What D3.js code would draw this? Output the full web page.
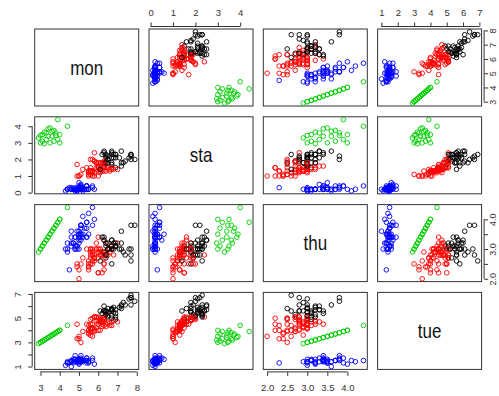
<!DOCTYPE html>
<html>
<head>
<meta charset="utf-8">
<script src="https://cdn.jsdelivr.net/npm/d3@7"></script>
<style>
  body { margin: 0; background: #fff; }
  text { font-family: "Liberation Sans", Arial, sans-serif; }
</style>
</head>
<body>
<div id="chart"></div>
<script>
// variable names, in panel order
var varNames = ["mon", "sta", "thu", "tue"];

// main 150 points
var mon = [5.1,4.9,4.7,4.6,5.0,5.4,4.6,5.0,4.4,4.9,5.4,4.8,4.8,4.3,5.8,5.7,5.4,5.1,5.7,5.1,5.4,5.1,4.6,5.1,4.8,5.0,5.0,5.2,5.2,4.7,4.8,5.4,5.2,5.5,4.9,5.0,5.5,4.9,4.4,5.1,5.0,4.5,4.4,5.0,5.1,4.8,5.1,4.6,5.3,5.0,
  7.0,6.4,6.9,5.5,6.5,5.7,6.3,4.9,6.6,5.2,5.0,5.9,6.0,6.1,5.6,6.7,5.6,5.8,6.2,5.6,5.9,6.1,6.3,6.1,6.4,6.6,6.8,6.7,6.0,5.7,5.5,5.5,5.8,6.0,5.4,6.0,6.7,6.3,5.6,5.5,5.5,6.1,5.8,5.0,5.6,5.7,5.7,6.2,5.1,5.7,
  6.3,5.8,7.1,6.3,6.5,7.6,4.9,7.3,6.7,7.2,6.5,6.4,6.8,5.7,5.8,6.4,6.5,7.7,7.7,6.0,6.9,5.6,7.7,6.3,6.7,7.2,6.2,6.1,6.4,7.2,7.4,7.9,6.4,6.3,6.1,7.7,6.3,6.4,6.0,6.9,6.7,6.9,5.8,6.8,6.7,6.7,6.3,6.5,6.2,5.9];
var thu = [3.5,3.0,3.2,3.1,3.6,3.9,3.4,3.4,2.9,3.1,3.7,3.4,3.0,3.0,4.0,4.4,3.9,3.5,3.8,3.8,3.4,3.7,3.6,3.3,3.4,3.0,3.4,3.5,3.4,3.2,3.1,3.4,4.1,4.2,3.1,3.2,3.5,3.6,3.0,3.4,3.5,2.3,3.2,3.5,3.8,3.0,3.8,3.2,3.7,3.3,
  3.2,3.2,3.1,2.3,2.8,2.8,3.3,2.4,2.9,2.7,2.0,3.0,2.2,2.9,2.9,3.1,3.0,2.7,2.2,2.5,3.2,2.8,2.5,2.8,2.9,3.0,2.8,3.0,2.9,2.6,2.4,2.4,2.7,2.7,3.0,3.4,3.1,2.3,3.0,2.5,2.6,3.0,2.6,2.3,2.7,3.0,2.9,2.9,2.5,2.8,
  3.3,2.7,3.0,2.9,3.0,3.0,2.5,2.9,2.5,3.6,3.2,2.7,3.0,2.5,2.8,3.2,3.0,3.8,2.6,2.2,3.2,2.8,2.8,2.7,3.3,3.2,2.8,3.0,2.8,3.0,2.8,3.8,2.8,2.8,2.6,3.0,3.4,3.1,3.0,3.1,3.1,3.1,2.7,3.2,3.3,3.0,2.5,3.0,3.4,3.0];
var tue = [1.4,1.4,1.3,1.5,1.4,1.7,1.4,1.5,1.4,1.5,1.5,1.6,1.4,1.1,1.2,1.5,1.3,1.4,1.7,1.5,1.7,1.5,1.0,1.7,1.9,1.6,1.6,1.5,1.4,1.6,1.6,1.5,1.5,1.4,1.5,1.2,1.3,1.4,1.3,1.5,1.3,1.3,1.3,1.6,1.9,1.4,1.6,1.4,1.5,1.4,
  4.7,4.5,4.9,4.0,4.6,4.5,4.7,3.3,4.6,3.9,3.5,4.2,4.0,4.7,3.6,4.4,4.5,4.1,4.5,3.9,4.8,4.0,4.9,4.7,4.3,4.4,4.8,5.0,4.5,3.5,3.8,3.7,3.9,5.1,4.5,4.5,4.7,4.4,4.1,4.0,4.4,4.6,4.0,3.3,4.2,4.2,4.2,4.3,3.0,4.1,
  6.0,5.1,5.9,5.6,5.8,6.6,4.5,6.3,5.8,6.1,5.1,5.3,5.5,5.0,5.1,5.3,5.5,6.7,6.9,5.0,5.7,4.9,6.7,4.9,5.7,6.0,4.8,4.9,5.6,5.8,6.1,6.4,5.6,5.1,5.6,6.1,5.6,5.5,4.8,5.4,5.6,5.1,5.1,5.9,5.7,5.2,5.0,5.2,5.4,5.1];
var sta = [0.2,0.2,0.2,0.2,0.2,0.4,0.3,0.2,0.2,0.1,0.2,0.2,0.1,0.1,0.2,0.4,0.4,0.3,0.3,0.3,0.2,0.4,0.2,0.5,0.2,0.2,0.4,0.2,0.2,0.2,0.2,0.4,0.1,0.2,0.2,0.2,0.2,0.1,0.2,0.2,0.3,0.3,0.2,0.6,0.4,0.3,0.2,0.2,0.2,0.2,
  1.4,1.5,1.5,1.3,1.5,1.3,1.6,1.0,1.3,1.4,1.0,1.5,1.0,1.4,1.3,1.4,1.5,1.0,1.5,1.1,1.8,1.3,1.5,1.2,1.3,1.4,1.4,1.7,1.5,1.0,1.1,1.0,1.2,1.6,1.5,1.6,1.5,1.3,1.3,1.3,1.2,1.4,1.2,1.0,1.3,1.2,1.3,1.3,1.1,1.3,
  2.5,1.9,2.1,1.8,2.2,2.1,1.7,1.8,1.8,2.5,2.0,1.9,2.1,2.0,2.4,2.3,1.8,2.2,2.3,1.5,2.3,2.0,2.0,1.8,2.1,1.8,1.8,1.8,2.1,1.6,1.9,2.0,2.2,1.5,1.4,2.3,2.4,1.8,1.8,2.1,2.4,2.3,1.9,2.3,2.5,2.3,1.9,2.0,2.3,1.8];
// group of each point (1 black, 2 red, 4 blue)
var group = [4,4,4,4,4,4,4,4,4,4,4,4,4,4,4,4,4,4,4,4,4,4,4,4,4,4,4,4,4,4,4,4,4,4,4,4,4,4,4,4,4,4,4,4,4,4,4,4,4,4,
  2,2,1,2,2,2,2,2,2,2,2,2,2,2,2,2,2,2,2,2,2,2,2,2,2,2,2,1,2,2,2,2,2,2,2,2,2,2,2,2,2,2,2,2,2,2,2,2,2,2,
  1,2,1,1,1,1,2,1,1,1,1,1,1,2,2,1,1,1,1,2,1,2,1,2,1,1,2,2,1,1,1,1,1,2,1,1,1,1,2,1,1,1,2,1,1,1,2,1,1,2];

// extra green group: same value for mon, thu and tue; own value for sta
var greenLevel = [2.9,3.0,3.0,3.1,3.1,3.2,3.2,3.3,3.3,3.4,3.4,3.5,3.5,3.6,3.6,3.7,3.7,3.8,3.8,3.9,3.9,4.0,4.0,4.4];
var greenSta   = [3.3,3.45,3.0,3.5,3.1,3.65,2.95,3.6,3.2,3.85,3.4,3.9,3.0,3.7,3.4,3.75,3.1,3.6,3.45,4.4,3.2,3.0,3.5,4.0];

var palette = { 1: "#000000", 2: "#ff0000", 3: "#00cd00", 4: "#0000ff" };

// tick values per variable
var ticks = { mon: [3,4,5,6,7,8], sta: [0,1,2,3,4], thu: [2.0,2.5,3.0,3.5,4.0], tue: [1,2,3,4,5,6,7] };

var width = 499, height = 396;
var marginL = 34.7, pw = 104, stepX = 114.3;
var marginT = 29, ph = 77, stepY = 87.8;
var off = 2.5;

var rows = [];
mon.forEach(function (d, i) {
  rows.push({ mon: mon[i], sta: sta[i], thu: thu[i], tue: tue[i], g: group[i] });
});
greenLevel.forEach(function (v, i) {
  rows.push({ mon: v, sta: greenSta[i], thu: v, tue: v, g: 3 });
});

// R style range: data range stretched by 4%
function padded(name) {
  var e = d3.extent(rows, function (d) { return d[name]; });
  var r = e[1] - e[0];
  return [e[0] - 0.04 * r, e[1] + 0.04 * r];
}

var xs = {}, ys = {};
varNames.forEach(function (name, k) {
  xs[name] = d3.scaleLinear().domain(padded(name)).range([marginL + k * stepX, marginL + k * stepX + pw]);
  ys[name] = d3.scaleLinear().domain(padded(name)).range([marginT + k * stepY + ph, marginT + k * stepY]);
});

var svg = d3.select("#chart")
  .append("svg")
  .attr("width", width)
  .attr("height", height);

varNames.forEach(function (yName, i) {
  varNames.forEach(function (xName, j) {
    var x0 = marginL + j * stepX, y0 = marginT + i * stepY;
    svg.append("rect")
      .attr("x", x0).attr("y", y0)
      .attr("width", pw).attr("height", ph)
      .attr("fill", "none")
      .attr("stroke", "#333")
      .attr("stroke-width", 1);

    if (i === j) {
      // reference glyphs look a little stretched vertically
      svg.append("text")
        .attr("transform", "translate(" + (x0 + pw / 2) + "," + (y0 + ph / 2) + ") scale(1,1.2)")
        .attr("text-anchor", "middle")
        .attr("dominant-baseline", "central")
        .attr("font-size", 17)
        .attr("fill", "#111")
        .text(xName);
      return;
    }

    svg.append("g")
      .selectAll("circle")
      .data(rows)
      .enter()
      .append("circle")
      .attr("cx", function (d) { return xs[xName](d[xName]); })
      .attr("cy", function (d) { return ys[yName](d[yName]); })
      .attr("r", 2.3)
      .attr("fill", "none")
      .attr("stroke", function (d) { return palette[d.g]; })
      .attr("stroke-width", 0.9);
  });
});

function styleAxis(g, scale, vals, horizontal) {
  g.select(".domain").remove();
  g.selectAll("line").attr("stroke", "#333");
  g.selectAll("text").attr("fill", "#333").attr("font-size", 9.5);
  // axis line from first to last tick
  var a = scale(vals[0]), b = scale(vals[vals.length - 1]);
  g.append("line")
    .attr("x1", horizontal ? a : 0).attr("x2", horizontal ? b : 0)
    .attr("y1", horizontal ? 0 : a).attr("y2", horizontal ? 0 : b)
    .attr("stroke", "#333");
}

// top axes: sta (col 2) and tue (col 4)
[1, 3].forEach(function (j) {
  var name = varNames[j];
  var g = svg.append("g").attr("transform", "translate(0," + (marginT - off) + ")");
  g.call(d3.axisTop(xs[name]).tickValues(ticks[name]).tickSize(4).tickPadding(7).tickSizeOuter(0)
    .tickFormat(d3.format("d")));
  styleAxis(g, xs[name], ticks[name], true);
});

// bottom axes: mon (col 1) and thu (col 3)
[0, 2].forEach(function (j) {
  var name = varNames[j];
  var g = svg.append("g").attr("transform", "translate(0," + (marginT + 3 * stepY + ph + off) + ")");
  g.call(d3.axisBottom(xs[name]).tickValues(ticks[name]).tickSize(4).tickPadding(8).tickSizeOuter(0)
    .tickFormat(name === "thu" ? d3.format(".1f") : d3.format("d")));
  styleAxis(g, xs[name], ticks[name], true);
});

// left axes: sta (row 2) and tue (row 4)
var leftShown = { sta: [0,1,2,3,4], tue: [1,3,5,7] };
[1, 3].forEach(function (i) {
  var name = varNames[i];
  var g = svg.append("g").attr("transform", "translate(" + (marginL - off) + ",0)");
  g.call(d3.axisLeft(ys[name]).tickValues(ticks[name]).tickSize(4).tickSizeOuter(0)
    .tickFormat(function (v) { return leftShown[name].indexOf(v) >= 0 ? String(v) : ""; }));
  styleAxis(g, ys[name], ticks[name], false);
  g.selectAll(".tick text")
    .attr("x", 0).attr("dy", null).attr("y", -11)
    .attr("text-anchor", "middle")
    .attr("transform", "rotate(-90)");
});

// right axes: mon (row 1) and thu (row 3)
var rightShown = { mon: [3,4,5,6,7,8], thu: [2.0,3.0,4.0] };
[0, 2].forEach(function (i) {
  var name = varNames[i];
  var g = svg.append("g").attr("transform", "translate(" + (marginL + 3 * stepX + pw + off) + ",0)");
  g.call(d3.axisRight(ys[name]).tickValues(ticks[name]).tickSize(4).tickSizeOuter(0)
    .tickFormat(function (v) {
      if (rightShown[name].indexOf(v) < 0) return "";
      return name === "thu" ? v.toFixed(1) : String(v);
    }));
  styleAxis(g, ys[name], ticks[name], false);
  g.selectAll(".tick text")
    .attr("x", 0).attr("dy", null).attr("y", 11.5)
    .attr("font-size", 9)
    .attr("text-anchor", "middle")
    .attr("transform", "rotate(-90)");
});
</script>
</body>
</html>
